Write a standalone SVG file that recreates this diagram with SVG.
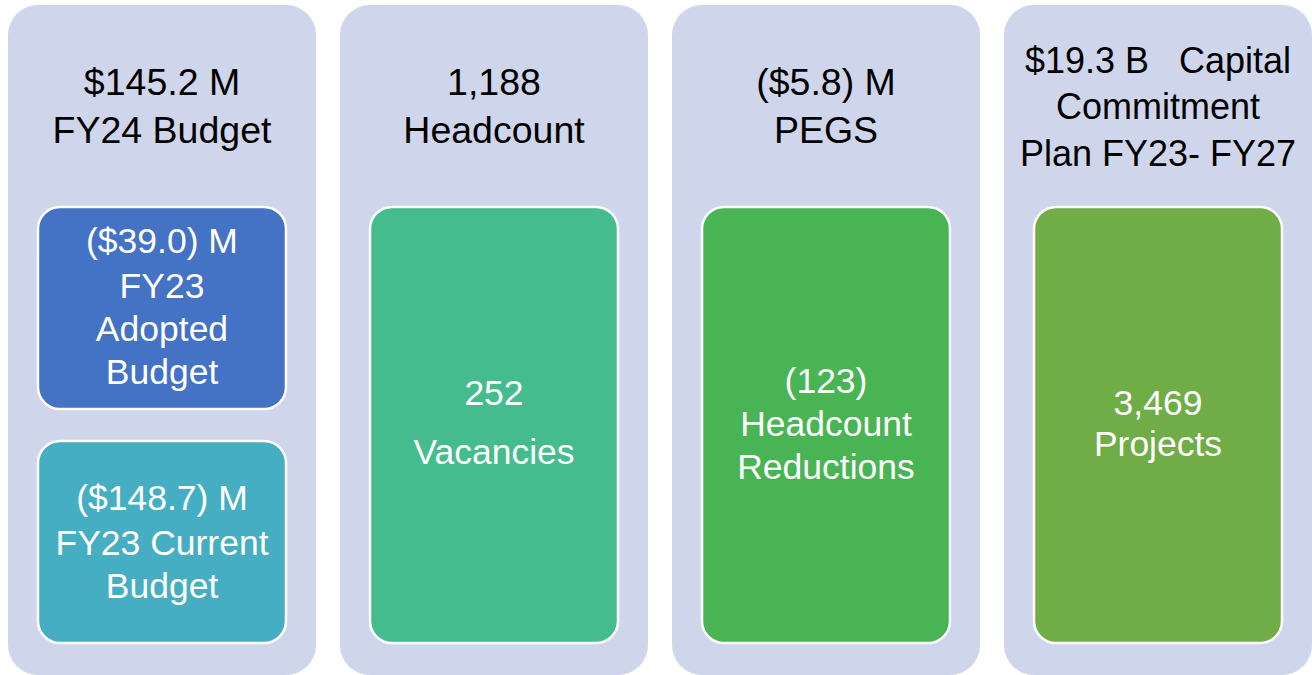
<svg xmlns="http://www.w3.org/2000/svg" width="1312" height="675" viewBox="0 0 1312 675">
<style>
.panel{fill:#CFD5EA}
.box{stroke:#FFFFFF;stroke-width:2.5}
.hd{font-family:"Liberation Sans",Arial,sans-serif;font-size:37.5px;fill:#000;text-anchor:middle;white-space:pre}
.hd4{font-size:36px}
.in{font-family:"Liberation Sans",Arial,sans-serif;font-size:35.5px;fill:#FFF;text-anchor:middle}
</style>
<rect width="1312" height="675" fill="#FFFFFF"/>
<g id="col1">
<rect class="panel" x="8" y="5" width="308" height="670" rx="30"/>
<text class="hd" x="162" y="95">$145.2 M</text>
<text class="hd" x="162" y="143">FY24 Budget</text>
</g>
<g id="box1a">
<rect class="box" x="38" y="207" width="248" height="202" rx="22" fill="#4472C4"/>
<text class="in" x="162" y="253">($39.0) M</text>
<text class="in" x="162" y="298">FY23</text>
<text class="in" x="162" y="341">Adopted</text>
<text class="in" x="162" y="384">Budget</text>
</g>
<g id="box1b">
<rect class="box" x="38" y="441" width="248" height="202" rx="22" fill="#46AEC2"/>
<text class="in" x="162" y="510">($148.7) M</text>
<text class="in" x="162" y="555">FY23 Current</text>
<text class="in" x="162" y="598">Budget</text>
</g>
<g id="col2">
<rect class="panel" x="340" y="5" width="308" height="670" rx="30"/>
<text class="hd" x="494" y="95">1,188</text>
<text class="hd" x="494" y="143">Headcount</text>
</g>
<g id="box2">
<rect class="box" x="370" y="207" width="248" height="436" rx="22" fill="#45BC8D"/>
<text class="in" x="494" y="405">252</text>
<text class="in" x="494" y="464">Vacancies</text>
</g>
<g id="col3">
<rect class="panel" x="672" y="5" width="308" height="670" rx="30"/>
<text class="hd" x="826" y="95">($5.8) M</text>
<text class="hd" x="826" y="143">PEGS</text>
</g>
<g id="box3">
<rect class="box" x="702" y="207" width="248" height="436" rx="22" fill="#48B454"/>
<text class="in" x="826" y="393">(123)</text>
<text class="in" x="826" y="436">Headcount</text>
<text class="in" x="826" y="479">Reductions</text>
</g>
<g id="col4">
<rect class="panel" x="1004" y="5" width="308" height="670" rx="30"/>
<text class="hd hd4" x="1158" y="73">$19.3 B   Capital</text>
<text class="hd hd4" x="1158" y="119">Commitment</text>
<text class="hd hd4" x="1158" y="166">Plan FY23- FY27</text>
</g>
<g id="box4">
<rect class="box" x="1034" y="207" width="248" height="436" rx="22" fill="#70AD47"/>
<text class="in" x="1158" y="415">3,469</text>
<text class="in" x="1158" y="456">Projects</text>
</g>
<g id="connectors"></g>
</svg>
